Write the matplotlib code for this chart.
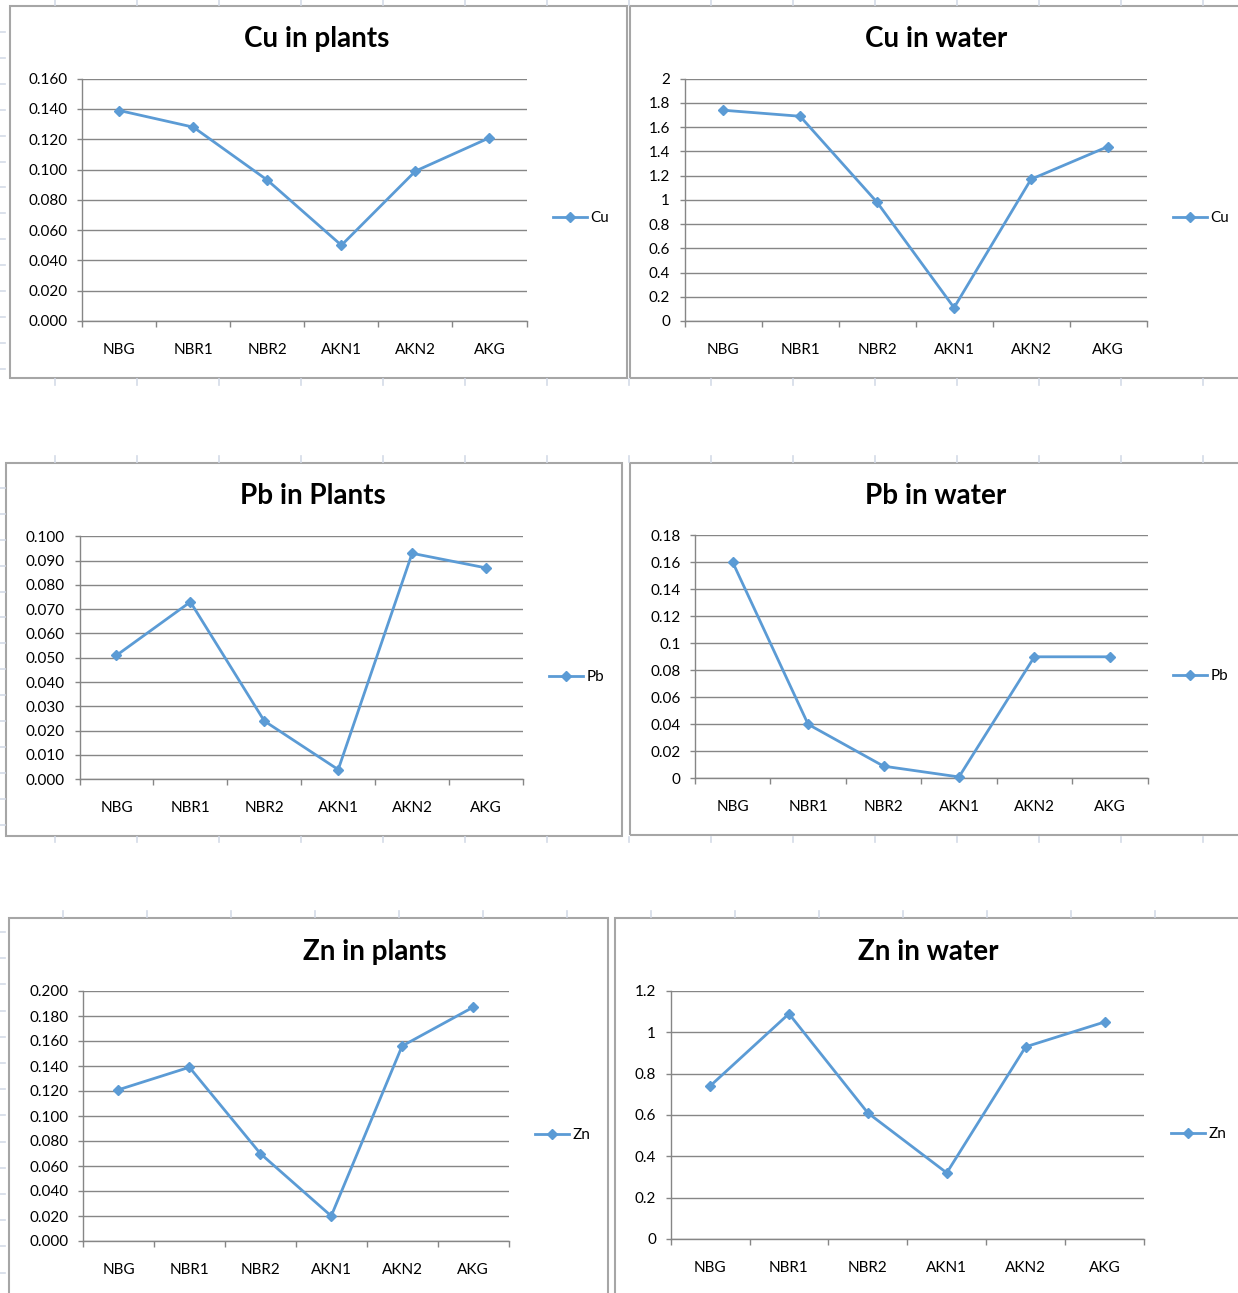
import numpy as np
import matplotlib
matplotlib.use("Agg")
import matplotlib.pyplot as plt
from matplotlib.lines import Line2D
from matplotlib.patches import Rectangle

plt.rcParams['font.family'] = ['Lato', 'DejaVu Sans']

# ---- data ----
sites = ["NBG", "NBR1", "NBR2", "AKN1", "AKN2", "AKG"]

cu_plants = [0.139, 0.128, 0.093, 0.050, 0.099, 0.121]
cu_water = [1.74, 1.69, 0.98, 0.11, 1.17, 1.44]
pb_plants = [0.051, 0.073, 0.024, 0.004, 0.093, 0.087]
pb_water = [0.16, 0.04, 0.009, 0.001, 0.09, 0.09]
zn_plants = [0.121, 0.139, 0.070, 0.020, 0.156, 0.187]
zn_water = [0.74, 1.09, 0.61, 0.32, 0.93, 1.05]

cu_plants_ticks = ["0.000", "0.020", "0.040", "0.060", "0.080", "0.100", "0.120", "0.140", "0.160"]
cu_water_ticks = ["0", "0.2", "0.4", "0.6", "0.8", "1", "1.2", "1.4", "1.6", "1.8", "2"]
pb_plants_ticks = ["0.000", "0.010", "0.020", "0.030", "0.040", "0.050", "0.060", "0.070", "0.080", "0.090", "0.100"]
pb_water_ticks = ["0", "0.02", "0.04", "0.06", "0.08", "0.1", "0.12", "0.14", "0.16", "0.18"]
zn_plants_ticks = ["0.000", "0.020", "0.040", "0.060", "0.080", "0.100", "0.120", "0.140", "0.160", "0.180", "0.200"]
zn_water_ticks = ["0", "0.2", "0.4", "0.6", "0.8", "1", "1.2"]

# ---- layout (pixels) ----
W, H = 1238, 1293
fig = plt.figure(figsize=(W / 100, H / 100), dpi=100)
fig.patch.set_facecolor("white")

LINE = "#5b9bd5"
GRID = "#868686"
FRAME = "#a6a6a6"
SHEET = "#d4dbe8"


def fx(x):
    return x / W


def fy(y):
    return 1 - y / H


def sheet_marks(cols, y0, y1):
    for c in cols:
        fig.add_artist(Line2D([fx(c), fx(c)], [fy(y0), fy(y1)], color=SHEET, lw=1.2))


# faint worksheet cell lines peeking out between the chart frames
cols_top = np.arange(55, W, 82)
cols_bot = np.arange(63, W, 84)
sheet_marks(cols_top, 0, 5)
sheet_marks(cols_top, 379, 385)
sheet_marks(cols_top, 456, 462)
sheet_marks(cols_top, 837, 842)
sheet_marks(cols_bot, 911, 917)
for r in list(np.arange(32, 376, 25.9)) + list(np.arange(488, 832, 25.9)) + list(np.arange(932, 1290, 26.2)):
    fig.add_artist(Line2D([0, fx(5)], [fy(r), fy(r)], color=SHEET, lw=1.2))

charts = [
    dict(title="Cu in plants", vals=cu_plants, ticks=cu_plants_ticks, name="Cu",
         ax=(82.3, 526.5, 78.7, 321), frame=(9.5, 626.5, 6, 377.5), tpos=(317, 39), leg=(553, 218)),
    dict(title="Cu in water", vals=cu_water, ticks=cu_water_ticks, name="Cu",
         ax=(684.6, 1146.5, 78.7, 321), frame=(630, 1250, 6, 377.5), tpos=(936, 39), leg=(1173, 218)),
    dict(title="Pb in Plants", vals=pb_plants, ticks=pb_plants_ticks, name="Pb",
         ax=(79.5, 523, 536.3, 779.3), frame=(5.5, 622, 463.3, 836), tpos=(313, 496), leg=(549, 677)),
    dict(title="Pb in water", vals=pb_water, ticks=pb_water_ticks, name="Pb",
         ax=(695, 1147.5, 535.3, 778.3), frame=(630, 1250, 463.3, 835), tpos=(936, 496), leg=(1173, 676)),
    dict(title="Zn in plants", vals=zn_plants, ticks=zn_plants_ticks, name="Zn",
         ax=(83, 508.5, 991, 1241), frame=(9, 608, 917.7, 1310), tpos=(374.5, 952), leg=(535, 1135)),
    dict(title="Zn in water", vals=zn_water, ticks=zn_water_ticks, name="Zn",
         ax=(670.6, 1144, 991, 1239), frame=(615, 1250, 917.7, 1310), tpos=(928, 952), leg=(1171, 1134)),
]

x = np.arange(len(sites)) + 0.5

for c in charts:
    # chart frame
    l, r, t, b = c["frame"]
    fig.add_artist(Rectangle((fx(l), fy(b)), fx(r) - fx(l), fy(t) - fy(b),
                             transform=fig.transFigure, fill=False,
                             edgecolor=FRAME, lw=1.5, clip_on=False))

    al, ar, at, ab = c["ax"]
    ax = fig.add_axes([fx(al), fy(ab), fx(ar) - fx(al), fy(at) - fy(ab)])
    ax.set_facecolor("none")
    ticks = c["ticks"]
    yvals = [float(v) for v in ticks]
    ax.set_ylim(0, yvals[-1])
    ax.set_xlim(0, len(sites))
    ax.set_yticks(yvals)
    ax.set_yticklabels(ticks)
    ax.set_xticks(np.arange(len(sites) + 1))
    ax.set_xticklabels([])
    ax.set_xticks(x, minor=True)
    ax.set_xticklabels(sites, minor=True)
    ax.tick_params(axis="x", which="major", length=4, width=1, color=GRID, direction="out")
    ax.tick_params(axis="x", which="minor", length=0, pad=15.5, labelsize=11)
    ax.tick_params(axis="y", length=3.5, width=1, color=GRID, direction="out", pad=7, labelsize=11)
    ax.grid(axis="y", color=GRID, lw=1)
    ax.set_axisbelow(True)
    for s in ("top", "right"):
        ax.spines[s].set_visible(False)
    for s in ("left", "bottom"):
        ax.spines[s].set_color(GRID)
        ax.spines[s].set_linewidth(1)

    ax.plot(x, c["vals"], color=LINE, lw=2.0, marker="D", markersize=5.5,
            markeredgecolor=LINE, markerfacecolor=LINE, label=c["name"], clip_on=False, zorder=3)

    ax.legend(loc="center left", bbox_to_anchor=(fx(c["leg"][0]), fy(c["leg"][1])),
              bbox_transform=fig.transFigure, frameon=False, borderpad=0, borderaxespad=0,
              handlelength=2.2, handletextpad=0.25, fontsize=11)

    fig.text(fx(c["tpos"][0]), fy(c["tpos"][1]), c["title"], ha="center", va="center",
             fontsize=20, fontweight="bold", color="black")

fig.savefig("out.png", dpi=100, facecolor="white")
